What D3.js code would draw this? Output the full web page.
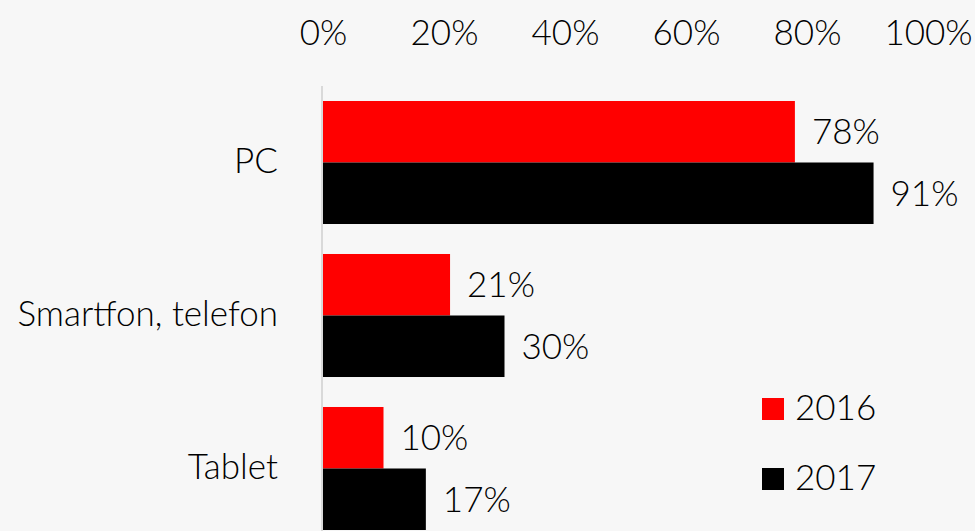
<!DOCTYPE html>
<html lang="pl">
<head>
<meta charset="utf-8">
<title>Urządzenia</title>
<script src="https://cdn.jsdelivr.net/npm/d3@7"></script>
<style>
  html, body { margin: 0; padding: 0; background: #f7f7f7; }
  svg { display: block; font-family: "Lato", sans-serif; font-weight: 300; }
  .axis path, .axis line { display: none; }
</style>
</head>
<body>
<script>
// dane
var categories = ["PC", "Smartfon, telefon", "Tablet"];
var years = ["2016", "2017"];
var values2016 = [78, 21, 10];
var values2017 = [91, 30, 17];
var tickValues = [0, 20, 40, 60, 80, 100];
var colors = ["#ff0000", "#000000"];

var w = 975, h = 531;
var fs = "35px";

var svg = d3.select("body").append("svg")
    .attr("width", w)
    .attr("height", h);

svg.append("rect").attr("width", w).attr("height", h).attr("fill", "#f7f7f7");

var xScale = d3.scaleLinear().domain([0, 100]).range([323, 928]);

var yScale = d3.scaleBand()
    .domain(categories)
    .range([86, 545])
    .paddingInner(0.196)
    .paddingOuter(0.098);

var sub = d3.scaleBand().domain(years).range([0, yScale.bandwidth()]);

var rows = categories.map(function(c, i) {
    return { cat: c, vals: [values2016[i], values2017[i]] };
});

// os X na gorze
var xAxis = d3.axisTop(xScale)
    .tickValues(tickValues)
    .tickFormat(function(d) { return d + "%"; })
    .tickSize(0);

svg.append("g")
    .attr("class", "axis")
    .attr("transform", "translate(0,45)")
    .call(xAxis)
    .selectAll("text")
    .attr("font-family", "Lato, sans-serif")
    .attr("font-weight", 300)
    .attr("font-size", fs)
    .attr("fill", "#000")
    .attr("y", 0)
    .attr("dy", 0);

// slupki
var groups = svg.selectAll("g.row")
    .data(rows)
    .enter()
    .append("g")
    .attr("class", "row")
    .attr("transform", function(d) { return "translate(0," + yScale(d.cat) + ")"; });

groups.selectAll("rect")
    .data(function(d) { return d.vals; })
    .enter()
    .append("rect")
    .attr("x", xScale(0))
    .attr("y", function(d, i) { return sub(years[i]); })
    .attr("width", function(d) { return xScale(d) - xScale(0); })
    .attr("height", sub.bandwidth())
    .attr("fill", function(d, i) { return colors[i]; });

groups.selectAll("text.val")
    .data(function(d) { return d.vals; })
    .enter()
    .append("text")
    .attr("class", "val")
    .attr("x", function(d) { return xScale(d) + 17; })
    .attr("y", function(d, i) { return sub(years[i]) + sub.bandwidth() / 2; })
    .attr("dy", "0.36em")
    .attr("font-size", fs)
    .text(function(d) { return d + "%"; });

// etykiety kategorii
svg.selectAll("text.cat")
    .data(categories)
    .enter()
    .append("text")
    .attr("class", "cat")
    .attr("x", 278)
    .attr("y", function(d) { return yScale(d) + yScale.bandwidth() / 2; })
    .attr("dy", "0.3em")
    .attr("text-anchor", "end")
    .attr("font-size", fs)
    .text(function(d) { return d; });

// linia osi Y
svg.append("line")
    .attr("x1", xScale(0) - 1).attr("x2", xScale(0) - 1)
    .attr("y1", 86).attr("y2", h)
    .attr("stroke", "#d9d9d9")
    .attr("stroke-width", 2);

// legenda
var legend = svg.selectAll("g.legend")
    .data(years)
    .enter()
    .append("g")
    .attr("class", "legend")
    .attr("transform", function(d, i) { return "translate(762," + (398 + i * 70) + ")"; });

legend.append("rect")
    .attr("width", 22).attr("height", 22)
    .attr("fill", function(d, i) { return colors[i]; });

legend.append("text")
    .attr("x", 33)
    .attr("y", 22)
    .attr("font-size", fs)
    .text(function(d) { return d; });
</script>
</body>
</html>
